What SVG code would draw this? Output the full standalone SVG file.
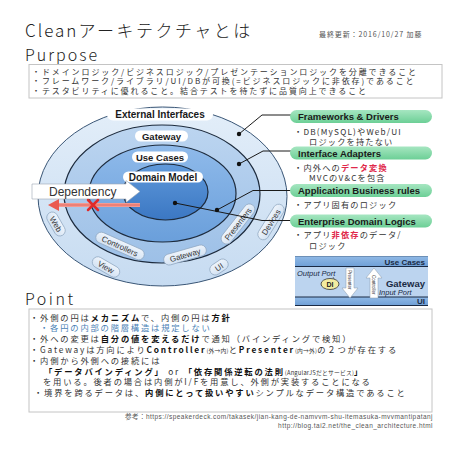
<svg xmlns="http://www.w3.org/2000/svg" width="457" height="457" viewBox="0 0 457 457">
<defs>
<linearGradient id="gOuter" x1="0" y1="0" x2="0" y2="1"><stop offset="0" stop-color="#e3eef9"/><stop offset="1" stop-color="#c6dbf1"/></linearGradient>
<linearGradient id="gR2" x1="0" y1="0" x2="0" y2="1"><stop offset="0" stop-color="#bcd5f0"/><stop offset="1" stop-color="#9dc0e7"/></linearGradient>
<linearGradient id="gR3" x1="0" y1="0" x2="0" y2="1"><stop offset="0" stop-color="#8fbaea"/><stop offset="1" stop-color="#6a9fdb"/></linearGradient>
<linearGradient id="gR4" x1="0" y1="0" x2="0" y2="1"><stop offset="0" stop-color="#5f99da"/><stop offset="1" stop-color="#3b77c3"/></linearGradient>
<linearGradient id="gGreen" x1="0" y1="0" x2="0" y2="1"><stop offset="0" stop-color="#a6e6c1"/><stop offset="1" stop-color="#6ccf96"/></linearGradient>
<linearGradient id="gPill" x1="0" y1="0" x2="0" y2="1"><stop offset="0" stop-color="#eef4fb"/><stop offset="1" stop-color="#d3e2f3"/></linearGradient>
<linearGradient id="gBand" x1="0" y1="0" x2="0" y2="1"><stop offset="0" stop-color="#8fb9e6"/><stop offset="1" stop-color="#6f9fd6"/></linearGradient>
<style>
.jp{font-family:"Noto Sans CJK JP","Liberation Sans",sans-serif;fill:#333;}
.thin{font-weight:300;fill:#222;}
.pb{font-size:8px;letter-spacing:1.9px;}
.pt{font-size:8.3px;letter-spacing:1.8px;}
.b{font-weight:bold;fill:#111;}
.sm{font-size:5.8px;letter-spacing:0.2px;}
.red{fill:#e0284a;font-weight:bold;}
.lab{font-family:"Liberation Sans",Arial,sans-serif;font-weight:bold;fill:#1a1a1a;text-anchor:middle;}
.ring{font-family:"Liberation Sans",Arial,sans-serif;font-size:8px;fill:#333;text-anchor:middle;}
.wpill{fill:#fff;}
.rpill{fill:url(#gPill);stroke:#8ea6c0;stroke-width:0.7;}
.gp{fill:url(#gGreen);}
.gt{font-family:"Liberation Sans",Arial,sans-serif;font-weight:bold;font-size:9.5px;fill:#1a1a1a;}
.rt{font-size:8.2px;letter-spacing:1.2px;}
.lead{fill:none;stroke:#1a1a1a;stroke-width:1;}
.it{font-family:"Liberation Sans",Arial,sans-serif;font-style:italic;font-size:7.5px;fill:#1a2a44;}
.bb{font-family:"Liberation Sans",Arial,sans-serif;font-weight:bold;fill:#1a2a44;text-anchor:end;}
.box{fill:#fff;stroke:#c4c4c4;stroke-width:1;}
.ref{font-family:"Liberation Sans","Noto Sans CJK JP",sans-serif;font-size:6.5px;letter-spacing:0.45px;fill:#555;text-anchor:end;}
</style>
</defs>
<rect width="457" height="457" fill="#fff"/>

<g id="header">
<text class="jp thin" x="25" y="36.5" font-size="17"><tspan letter-spacing="2">Clean</tspan><tspan letter-spacing="2.5">アーキテクチャとは</tspan></text>
<text class="jp" x="319" y="37" font-size="7" style="fill:#555;letter-spacing:0.9px">最終更新：2016/10/27 加藤</text>
<text class="jp thin" x="25" y="60.5" font-size="16" letter-spacing="2">Purpose</text>
</g>

<g id="purpose">
<rect class="box" x="29" y="64.5" width="413" height="33.5"/>
<text class="jp pb" x="32" y="74.5">・ドメインロジック/ビジネスロジック/プレゼンテーションロジックを分離できること</text>
<text class="jp pb" x="32" y="84">・フレームワーク/ライブラリ/UI/DBが可換(=ビジネスロジックに非依存)であること</text>
<text class="jp pb" x="32" y="93.5">・テスタビリティに優れること。結合テストを待たずに品質向上できること</text>
</g>

<g id="circles">
<ellipse cx="162.5" cy="196.5" rx="124.5" ry="89.5" fill="url(#gOuter)" stroke="#3a5676" stroke-width="1"/>
<ellipse cx="162" cy="194" rx="98" ry="69" fill="url(#gR2)" stroke="#1d2b3d" stroke-width="1.2"/>
<ellipse cx="162.5" cy="193.5" rx="73.5" ry="48.5" fill="url(#gR3)" stroke="#1d2b3d" stroke-width="1.2"/>
<ellipse cx="165.5" cy="192" rx="42.5" ry="28" fill="url(#gR4)" stroke="#1d2b3d" stroke-width="1.2"/>
</g>

<g id="ring-labels">
<rect class="wpill" x="107" y="108.5" width="106" height="12" rx="6"/>
<text class="lab" x="160" y="118" font-size="10">External Interfaces</text>
<rect class="wpill" x="135" y="130.5" width="53" height="11" rx="5.5"/>
<text class="lab" x="161.5" y="139.5" font-size="9.5">Gateway</text>
<rect class="wpill" x="132" y="151.5" width="56" height="11" rx="5.5"/>
<text class="lab" x="160" y="160.5" font-size="9.5">Use Cases</text>
<rect class="wpill" x="123" y="171.5" width="80" height="11" rx="5.5"/>
<text class="lab" x="163" y="180.5" font-size="10">Domain Model</text>
</g>

<g id="sub-labels">
<g transform="translate(56,224) rotate(60)"><rect class="rpill" x="-13" y="-5.5" width="26" height="11" rx="5.5"/><text class="ring" x="0" y="3">Web</text></g>
<g transform="translate(106,267) rotate(30)"><rect class="rpill" x="-15" y="-5.5" width="30" height="11" rx="5.5"/><text class="ring" x="0" y="3">View</text></g>
<g transform="translate(120,246) rotate(24)"><rect class="rpill" x="-26" y="-5.5" width="52" height="11" rx="5.5"/><text class="ring" x="0" y="3">Controllers</text></g>
<g transform="translate(185,255) rotate(-16)"><rect class="rpill" x="-22" y="-5.5" width="44" height="11" rx="5.5"/><text class="ring" x="0" y="3">Gateway</text></g>
<g transform="translate(219,267) rotate(-34)"><rect class="rpill" x="-10" y="-5.5" width="20" height="11" rx="5.5"/><text class="ring" x="0" y="3">UI</text></g>
<g transform="translate(238,224) rotate(-52)"><rect class="rpill" x="-24" y="-5.5" width="48" height="11" rx="5.5"/><text class="ring" x="0" y="3">Presenters</text></g>
<g transform="translate(271,222) rotate(-58)"><rect class="rpill" x="-20" y="-5.5" width="40" height="11" rx="5.5"/><text class="ring" x="0" y="3">Devices</text></g>
</g>

<g id="dependency">
<path d="M32,184 L126,184 L126,180.5 L140,191.5 L126,202.5 L126,199 L32,199 Z" fill="#fff" stroke="#9aa6b2" stroke-width="0.6"/>
<text x="49" y="195.5" font-family="Liberation Sans,Arial,sans-serif" font-size="12" fill="#333">Dependency</text>
<line x1="140" y1="205" x2="56" y2="205" stroke="#f29a92" stroke-width="4"/>
<line x1="140" y1="205" x2="56" y2="205" stroke="#e8675c" stroke-width="1"/>
<path d="M48,205 L59,199 L59,211 Z" fill="#ea5a50"/>
<path d="M88,200 L98,210 M98,200 L88,210" stroke="#e02a2a" stroke-width="2.5" stroke-linecap="round"/>
</g>

<g id="connectors">
<polyline class="lead" points="239,134 262,115 291,115"/>
<polyline class="lead" points="239,164 263,151 291,151"/>
<polyline class="lead" points="217,210 253,190.5 291,190.5"/>
<polyline class="lead" points="175,203 262,220.5 291,220.5"/>
<circle cx="239" cy="134" r="2.2" fill="#111"/>
<circle cx="239" cy="164" r="2.2" fill="#111"/>
<circle cx="217" cy="210" r="2.2" fill="#111"/>
<circle cx="175" cy="203" r="2.2" fill="#111"/>
</g>

<g id="frameworks">
<rect class="gp" x="290" y="110" width="142" height="13" rx="6.5"/>
<text class="gt" x="298" y="120">Frameworks &amp; Drivers</text>
<text class="jp rt" x="294" y="134.5">・DB(MySQL)やWeb/UI</text>
<text class="jp rt" x="309" y="145">ロジックを持たない</text>
</g>
<g id="adapters">
<rect class="gp" x="290" y="146.5" width="142" height="13" rx="6.5"/>
<text class="gt" x="298" y="156.5">Interface Adapters</text>
<text class="jp rt" x="294" y="170.5">・内外への<tspan class="red">データ変換</tspan></text>
<text class="jp rt" x="309" y="181">MVCのV&amp;Cを包含</text>
</g>
<g id="application">
<rect class="gp" x="290" y="184" width="142" height="13" rx="6.5"/>
<text class="gt" x="298" y="194">Application Business rules</text>
<text class="jp rt" x="294" y="208">・アプリ固有のロジック</text>
</g>
<g id="enterprise">
<rect class="gp" x="290" y="214.5" width="142" height="13" rx="6.5"/>
<text class="gt" x="298" y="224.5">Enterprise Domain Logics</text>
<text class="jp rt" x="294" y="238">・アプリ<tspan class="red">非依存</tspan>のデータ/</text>
<text class="jp rt" x="309" y="248.5">ロジック</text>
</g>

<g id="layers">
<rect x="295" y="256.5" width="133" height="49" fill="#bcd4ef"/>
<rect x="295" y="256.5" width="133" height="10" fill="url(#gBand)"/>
<rect x="295" y="297" width="133" height="8.5" fill="url(#gBand)"/>
<line x1="295" y1="256.5" x2="428" y2="256.5" stroke="#5a7fa8" stroke-width="0.8"/>
<line x1="295" y1="266.5" x2="428" y2="266.5" stroke="#1a2a44" stroke-width="1.2"/>
<line x1="295" y1="297" x2="428" y2="297" stroke="#1a2a44" stroke-width="1.2"/>
<line x1="295" y1="305.5" x2="428" y2="305.5" stroke="#1a2a44" stroke-width="1.2"/>
<text class="bb" x="425" y="264.5" font-size="8">Use Cases</text>
<text class="bb" x="425" y="304" font-size="8">UI</text>
<text class="it" x="297" y="276">Output Port</text>
<path d="M333,277 q2,2 0,3.5" fill="none" stroke="#333" stroke-width="0.6"/>
<ellipse cx="330" cy="284" rx="9" ry="5.5" fill="#f3eca0" stroke="#333" stroke-width="0.8"/>
<text x="330" y="286.5" font-family="Liberation Sans,Arial,sans-serif" font-weight="bold" font-size="7" fill="#222" text-anchor="middle">DI</text>
<path d="M346,268 L354,268 L354,288 L358,288 L350,298 L342,288 L346,288 Z" fill="#fff" stroke="#8a9aaa" stroke-width="0.5"/>
<text transform="translate(348.3,270) rotate(90)" font-family="Liberation Sans,Arial,sans-serif" font-size="4.5" fill="#333">Presenter</text>
<path d="M374,268 L382,278 L378,278 L378,298 L370,298 L370,278 L366,278 Z" fill="#fff" stroke="#8a9aaa" stroke-width="0.5"/>
<text transform="translate(372.3,275) rotate(90)" font-family="Liberation Sans,Arial,sans-serif" font-size="4.5" fill="#333">Controller</text>
<text class="bb" x="425" y="287" font-size="9.5">Gateway</text>
<text class="it" x="379" y="294.5">Input Port</text>
</g>

<g id="point">
<text class="jp thin" x="25" y="305" font-size="16" letter-spacing="2.5">Point</text>
<rect class="box" x="29" y="309" width="403" height="103"/>
<text class="jp pt" x="30" y="320.5">・外側の円は<tspan class="b">メカニズム</tspan>で、内側の円は<tspan class="b">方針</tspan></text>
<text class="jp pt" x="40" y="331.3" style="fill:#4a7fb5">・各円の内部の階層構造は規定しない</text>
<text class="jp pt" x="30" y="342.1">・外への変更は<tspan class="b">自分の値を変えるだけ</tspan>で通知（バインディングで検知）</text>
<text class="jp pt" x="30" y="352.9">・Gatewayは方向により<tspan class="b">Controller</tspan><tspan class="sm">(外→内)</tspan>と<tspan class="b">Presenter</tspan><tspan class="sm">(内→外)</tspan>の２つが存在する</text>
<text class="jp pt" x="30" y="363.7">・内側から外側への接続には</text>
<text class="jp pt" x="44" y="374.5"><tspan class="b">「データバインディング」</tspan> or <tspan class="b">「依存関係逆転の法則</tspan><tspan class="sm">(AngularJSだとサービス)</tspan><tspan class="b">」</tspan></text>
<text class="jp pt" x="43" y="385.3">を用いる。後者の場合は内側がI/Fを用意し、外側が実装することになる</text>
<text class="jp pt" x="34" y="396.1">・境界を跨るデータは、<tspan class="b">内側にとって扱いやすい</tspan>シンプルなデータ構造であること</text>
</g>

<g id="footer">
<text class="ref" x="433" y="419">参考：https://speakerdeck.com/takasek/jian-kang-de-namvvm-shu-itemasuka-mvvmantipatanj</text>
<text class="ref" x="433" y="428">http://blog.tai2.net/the_clean_architecture.html</text>
</g>
</svg>
